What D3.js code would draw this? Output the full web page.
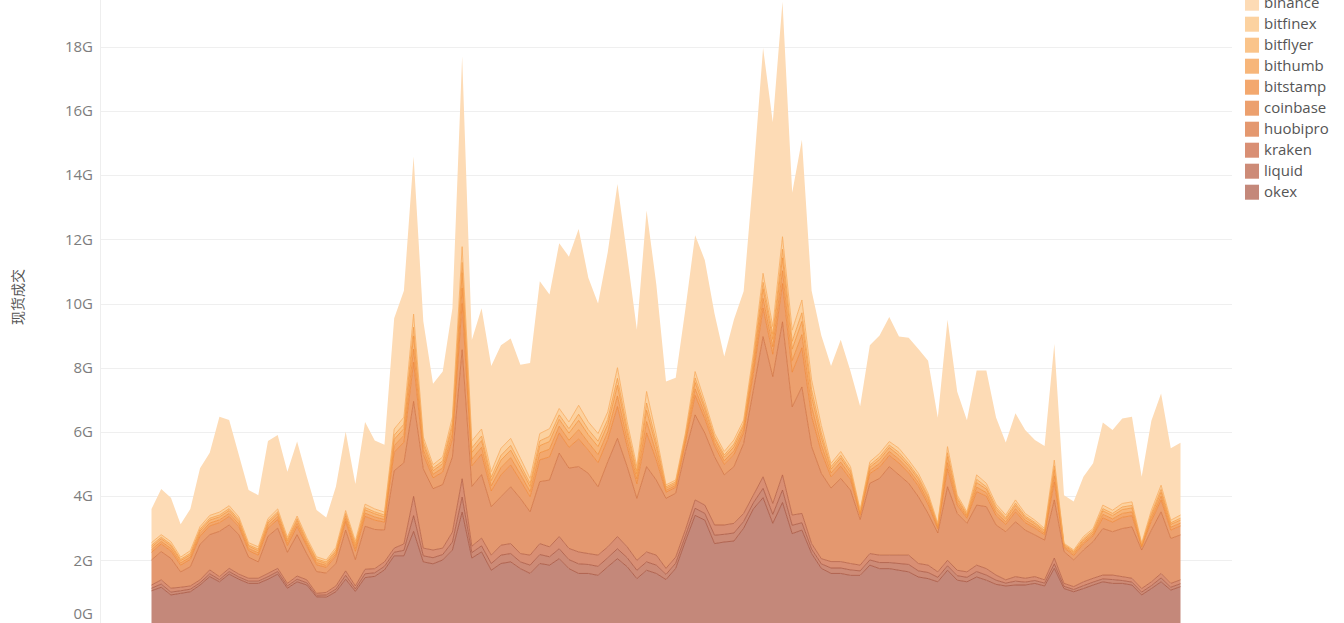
<!DOCTYPE html>
<html><head><meta charset="utf-8">
<script src="https://cdn.jsdelivr.net/npm/d3@7"></script>
<style>body{margin:0;background:#fff;overflow:hidden}svg{display:block}</style>
</head><body>
<svg id="c" width="1344" height="623"></svg>
<script>
// legend order (top of stack first)
const exchanges = ["binance","bitfinex","bitflyer","bithumb","bitstamp","coinbase","huobipro","kraken","liquid","okex"];
const fillColors = ["#fddbb5","#fcd2a0","#fac48a","#f7b67a","#f3a86e","#eca06e","#e4986f","#d98f74","#cd8b77","#c4887a"];
const yTicks = [0,2,4,6,8,10,12,14,16,18];
const yTitle = "现货成交";

// daily spot volume in G
const okex = [1.05,1.16,0.92,0.97,1.02,1.23,1.49,1.33,1.57,1.41,
 1.28,1.28,1.41,1.57,1.13,1.33,1.23,0.86,0.85,1.02,
 1.41,1.03,1.46,1.5,1.7,2.14,2.14,2.9,1.95,1.89,
 2.01,2.32,3.5,2.07,2.26,1.69,1.9,1.95,1.74,1.59,
 1.9,1.85,2.05,1.74,1.59,1.59,1.53,1.8,2.05,1.8,
 1.43,1.69,1.59,1.4,1.75,2.6,3.4,3.25,2.52,2.57,
 2.6,3.0,3.6,3.95,3.15,3.8,2.83,2.94,2.21,1.75,
 1.59,1.59,1.53,1.53,1.85,1.74,1.74,1.69,1.64,1.48,
 1.43,1.33,1.69,1.38,1.33,1.48,1.38,1.25,1.2,1.23,
 1.23,1.28,1.2,1.75,1.12,1.02,1.12,1.23,1.33,1.28,
 1.28,1.23,0.92,1.12,1.33,1.07,1.18];
const liquid = [.08,.10,.09,.08,.08,.07,.09,.07,.08,.07,
 .07,.07,.08,.08,.07,.08,.07,.05,.07,.08,
 .12,.08,.12,.11,.11,.11,.17,.49,.19,.19,
 .17,.25,.47,.17,.19,.21,.26,.26,.21,.26,
 .28,.26,.31,.28,.30,.28,.28,.28,.31,.28,
 .26,.26,.26,.16,.16,.16,.22,.21,.26,.24,
 .25,.21,.19,.29,.28,.39,.26,.23,.14,.14,
 .17,.17,.17,.14,.16,.19,.19,.21,.23,.19,
 .19,.14,.14,.14,.14,.17,.16,.13,.09,.12,
 .09,.09,.09,.14,.07,.07,.09,.09,.09,.12,
 .09,.09,.09,.09,.12,.09,.09];
const kraken = [.10,.13,.12,.11,.10,.09,.12,.09,.10,.09,
 .09,.09,.10,.10,.08,.10,.09,.06,.08,.10,
 .14,.09,.14,.13,.14,.13,.20,.60,.24,.24,
 .20,.31,.57,.20,.24,.26,.31,.31,.26,.31,
 .34,.31,.38,.35,.37,.34,.35,.34,.38,.34,
 .31,.31,.31,.19,.19,.19,.26,.26,.32,.29,
 .30,.25,.24,.36,.34,.47,.32,.29,.17,.16,
 .20,.20,.20,.18,.20,.23,.23,.26,.29,.23,
 .23,.17,.17,.17,.17,.20,.20,.16,.10,.14,
 .12,.12,.10,.18,.09,.09,.12,.12,.12,.14,
 .12,.12,.11,.12,.14,.12,.12];
const huobipro = [.78,.88,.93,.48,.6,1.11,1.1,1.41,1.35,1.23,
 .66,.51,1.16,1.25,.97,1.29,.81,.68,.6,.7,
 1.27,.82,1.34,1.22,.99,2.41,2.53,2.96,2.47,1.91,
 1.98,2.34,4.02,1.86,1.98,1.51,1.51,1.77,1.72,1.35,
 1.93,2.08,2.6,2.5,2.66,2.5,2.13,2.65,3.06,2.5,
 1.93,2.66,2.34,2.18,1.99,2.44,2.65,2.24,2.13,1.56,
 1.77,2.18,3.27,4.37,3.95,4.77,3.37,3.94,3.02,2.66,
 2.29,2.59,2.29,1.42,2.19,2.39,2.76,2.5,2.24,2.08,
 1.61,1.21,2.29,1.77,1.51,1.87,1.93,1.56,1.5,1.71,
 1.5,1.3,1.24,1.81,.99,.83,.99,1.14,1.45,1.35,
 1.5,1.6,1.2,1.61,1.92,1.4,1.4];
const coinbase = [.24,.24,.23,.21,.23,.25,.27,.27,.27,.25,
 .2,.21,.25,.27,.21,.26,.23,.21,.18,.23,
 .27,.26,.31,.29,.25,.58,.64,1.22,.45,.34,
 .39,.56,1.44,.64,.64,.49,.68,.68,.56,.47,
 .68,.72,.63,.65,.86,.72,.75,.70,.99,.63,
 .45,1.05,.63,.19,.18,.26,.61,.45,.33,.33,
 .37,.33,.52,.89,.70,1.19,1.08,1.22,.94,.67,
 .35,.38,.33,.13,.30,.35,.35,.37,.32,.33,
 .28,.13,.56,.26,.16,.42,.33,.29,.23,.31,
 .23,.21,.16,.56,.12,.14,.19,.18,.33,.30,
 .35,.35,.09,.28,.37,.26,.28];
const bitstamp = [.08,.08,.08,.07,.07,.08,.09,.09,.09,.08,
 .07,.07,.08,.09,.07,.09,.07,.07,.06,.07,
 .09,.09,.10,.10,.08,.20,.21,.41,.15,.11,
 .13,.19,.48,.21,.21,.16,.23,.23,.19,.16,
 .22,.24,.21,.22,.29,.24,.25,.23,.33,.21,
 .15,.35,.21,.06,.06,.09,.20,.15,.11,.11,
 .12,.11,.17,.30,.23,.40,.36,.41,.31,.22,
 .12,.13,.11,.05,.10,.12,.12,.12,.11,.11,
 .10,.05,.19,.09,.05,.14,.11,.10,.08,.10,
 .08,.07,.05,.19,.04,.05,.06,.06,.11,.10,
 .12,.12,.03,.09,.12,.09,.09];
const bithumb = [.08,.08,.08,.07,.07,.08,.09,.09,.09,.08,
 .07,.07,.08,.09,.07,.09,.07,.07,.06,.07,
 .09,.09,.10,.10,.08,.20,.21,.41,.15,.11,
 .13,.19,.48,.21,.21,.16,.23,.23,.19,.16,
 .22,.24,.21,.22,.29,.24,.25,.23,.33,.21,
 .15,.35,.21,.06,.06,.09,.20,.15,.11,.11,
 .12,.11,.17,.30,.23,.40,.36,.41,.31,.22,
 .12,.13,.11,.05,.10,.12,.12,.12,.11,.11,
 .10,.05,.19,.09,.05,.14,.11,.10,.08,.10,
 .08,.07,.05,.19,.04,.05,.06,.06,.11,.10,
 .12,.12,.03,.09,.12,.09,.09];
const bitflyer = [.06,.05,.05,.04,.05,.06,.06,.06,.06,.06,
 .04,.05,.06,.06,.05,.06,.05,.04,.05,.05,
 .07,.06,.07,.06,.06,.13,.14,.27,.10,.08,
 .09,.12,.32,.14,.14,.11,.15,.15,.12,.10,
 .15,.16,.14,.14,.19,.16,.17,.16,.22,.14,
 .10,.23,.14,.05,.05,.05,.14,.10,.07,.07,
 .09,.07,.12,.20,.16,.27,.24,.27,.21,.15,
 .08,.08,.07,.03,.07,.08,.08,.09,.07,.07,
 .06,.03,.12,.05,.04,.10,.07,.07,.05,.07,
 .05,.04,.04,.12,.03,.03,.04,.05,.07,.07,
 .08,.08,.03,.06,.09,.05,.06];
const bitfinex = [.08,.08,.08,.07,.08,.08,.09,.09,.09,.08,
 .07,.07,.08,.09,.07,.08,.08,.07,.06,.08,
 .09,.08,.11,.09,.09,.19,.22,.41,.14,.11,
 .12,.18,.49,.22,.22,.17,.22,.22,.19,.15,
 .23,.24,.20,.21,.28,.24,.24,.23,.33,.20,
 .14,.36,.21,.06,.06,.08,.20,.14,.11,.11,
 .13,.11,.17,.28,.24,.39,.35,.40,.31,.23,
 .10,.12,.11,.04,.10,.11,.11,.13,.11,.11,
 .09,.04,.19,.08,.06,.14,.11,.09,.08,.10,
 .08,.07,.06,.18,.03,.04,.07,.06,.11,.10,
 .11,.11,.03,.10,.13,.08,.10];
const binance = [1.05,1.42,1.37,1.02,1.3,1.82,1.95,2.97,2.67,1.93,
 1.64,1.61,2.42,2.3,2.04,2.32,1.9,1.46,1.32,1.9,
 2.46,1.78,2.56,2.13,2.1,3.45,3.94,4.91,3.61,2.52,
 2.66,3.39,5.93,3.14,3.76,3.29,3.21,3.11,2.91,3.6,
 4.74,4.18,5.15,5.15,5.49,4.49,4.05,4.98,5.72,5.17,
 4.26,5.64,4.7,3.22,3.19,3.87,4.25,4.4,3.72,2.96,
 3.75,4.01,5.55,7.02,6.37,7.32,4.28,4.99,2.78,2.8,
 3.03,3.48,2.98,3.23,3.63,3.67,3.88,3.48,3.81,3.87,
 4.13,3.29,3.95,3.22,2.85,3.25,3.51,2.7,2.26,2.7,
 2.6,2.5,2.57,3.62,1.5,1.51,1.86,2.03,2.57,2.5,
 2.65,2.65,2.07,2.79,2.86,2.24,2.25];

const seriesByName = {okex, liquid, kraken, huobipro, coinbase, bitstamp, bithumb, bitflyer, bitfinex, binance};
const stackKeys = exchanges.slice().reverse(); // okex at the bottom
const n = okex.length;
const rows = d3.range(n).map(i => {
  const r = {i};
  stackKeys.forEach(k => r[k] = seriesByName[k][i]);
  return r;
});
const colorOf = {};
exchanges.forEach((e, i) => colorOf[e] = fillColors[i]);
const lineOf = {okex:"#a95843", liquid:"#ad5c45", kraken:"#b86448", huobipro:"#d27645",
  coinbase:"#ee8a3c", bitstamp:"#f08f3e", bithumb:"#f39642", bitflyer:"#f59f4c", bitfinex:"#f8ad60"};

const svg = d3.select("#c");
const x = d3.scaleLinear().domain([0, n - 1]).range([151.5, 1180.5]);
const y = d3.scaleLinear().domain([0, 18]).range([624.5, 46.7]);

// gridlines
svg.append("g").selectAll("line").data(yTicks.filter(d => d > 0)).join("line")
  .attr("x1", 100).attr("x2", 1232)
  .attr("y1", d => Math.round(y(d)) + 0.5).attr("y2", d => Math.round(y(d)) + 0.5)
  .attr("stroke", "#efefef").attr("stroke-width", 1);
svg.append("line").attr("x1", 100.5).attr("x2", 100.5).attr("y1", 0).attr("y2", 623)
  .attr("stroke", "#eeeeee");

// y axis labels
const ax = svg.append("g").attr("transform", "translate(93,0)")
  .call(d3.axisLeft(y).tickValues(yTicks).tickFormat(d => d + "G").tickSize(0).tickPadding(0));
ax.select(".domain").remove();
ax.selectAll("text").attr("fill", "#7d7d7d").style("font-family", "'Open Sans', sans-serif").style("font-size", "15px");
ax.selectAll(".tick").filter(d => d === 0).select("text").attr("y", -11);

svg.append("text")
  .attr("transform", "translate(18,297) rotate(-90)")
  .attr("text-anchor", "middle").attr("dy", "0.35em")
  .attr("fill", "#555").style("font-family", "'Noto Sans CJK SC', sans-serif").style("font-size", "14px")
  .text(yTitle);

// stacked areas
const stacked = d3.stack().keys(stackKeys)(rows);
const area = d3.area().x(d => x(d.data.i)).y0(d => y(d[0])).y1(d => y(d[1]));
const topLine = d3.line().x(d => x(d.data.i)).y(d => y(d[1]));
svg.append("g").selectAll("path").data(stacked).join("path")
  .attr("d", area).attr("fill", d => colorOf[d.key]);
svg.append("g").selectAll("path").data(stacked.filter(s => s.key !== "binance")).join("path")
  .attr("d", topLine).attr("fill", "none")
  .attr("stroke", d => lineOf[d.key]).attr("stroke-width", 1).attr("stroke-opacity", 0.85)
  .attr("stroke-linejoin", "round");

// legend
const lg = svg.append("g").attr("transform", "translate(1245,0)");
const item = lg.selectAll("g").data(exchanges).join("g")
  .attr("transform", (d, i) => `translate(0,${3.2 + 21 * i})`);
item.append("rect").attr("x", 0).attr("y", -7.5).attr("width", 14).attr("height", 15)
  .attr("fill", d => colorOf[d]);
item.append("text").attr("x", 19).attr("dy", "0.35em")
  .attr("fill", "#555").style("font-family", "'Open Sans', sans-serif").style("font-size", "15px")
  .text(d => d);
</script>
</body></html>
